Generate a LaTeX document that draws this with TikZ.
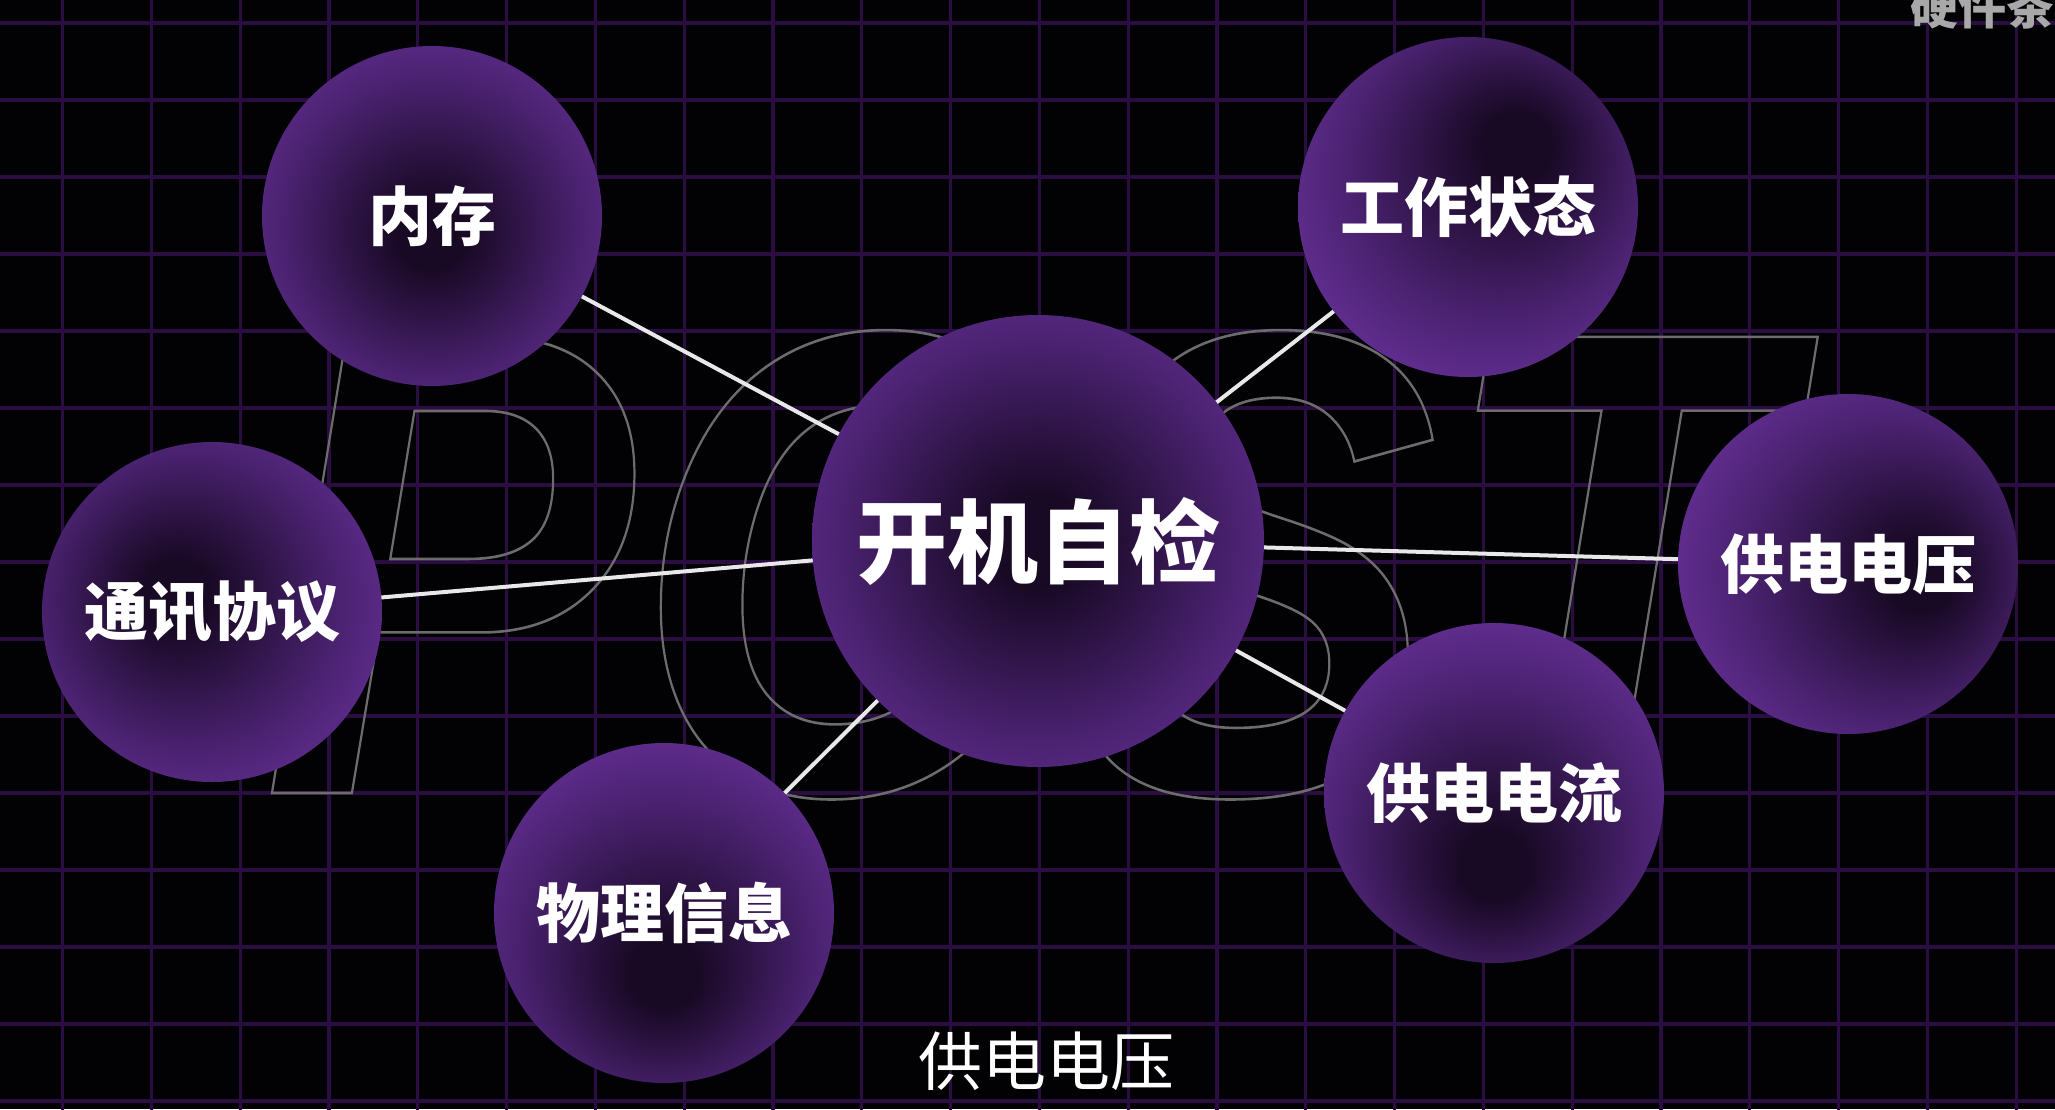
\documentclass[tikz,border=0pt]{standalone}
\usepackage{fontspec}
\newfontfamily\cjk{Noto Sans CJK SC}
\newfontfamily\postfont{Liberation Sans}
\definecolor{bgblack}{RGB}{2,1,4}
\definecolor{gridpurple}{RGB}{42,14,66}
\definecolor{ballcore}{RGB}{24,9,36}
\definecolor{ballmid}{RGB}{74,34,112}
\definecolor{balllight}{RGB}{116,55,170}
\definecolor{balledge}{RGB}{130,62,190}
\definecolor{postgray}{RGB}{108,108,108}
\definecolor{connwhite}{RGB}{232,232,232}
\definecolor{markgray}{RGB}{168,168,168}
\pgfdeclareradialshading{ballMem}{\pgfpoint{0bp}{-3bp}}{color(0bp)=(ballcore); color(5bp)=(ballcore); color(22bp)=(ballmid); color(38bp)=(balllight); color(50bp)=(balledge)}
\pgfdeclareradialshading{ballWork}{\pgfpoint{8bp}{10bp}}{color(0bp)=(ballcore); color(5bp)=(ballcore); color(22bp)=(ballmid); color(38bp)=(balllight); color(50bp)=(balledge)}
\pgfdeclareradialshading{ballMain}{\pgfpoint{0bp}{0bp}}{color(0bp)=(ballcore); color(5bp)=(ballcore); color(22bp)=(ballmid); color(38bp)=(balllight); color(50bp)=(balledge)}
\pgfdeclareradialshading{ballComm}{\pgfpoint{-6bp}{3bp}}{color(0bp)=(ballcore); color(5bp)=(ballcore); color(22bp)=(ballmid); color(38bp)=(balllight); color(50bp)=(balledge)}
\pgfdeclareradialshading{ballVolt}{\pgfpoint{12bp}{-2bp}}{color(0bp)=(ballcore); color(5bp)=(ballcore); color(22bp)=(ballmid); color(38bp)=(balllight); color(50bp)=(balledge)}
\pgfdeclareradialshading{ballCurr}{\pgfpoint{0bp}{-12bp}}{color(0bp)=(ballcore); color(5bp)=(ballcore); color(22bp)=(ballmid); color(38bp)=(balllight); color(50bp)=(balledge)}
\pgfdeclareradialshading{ballPhys}{\pgfpoint{0bp}{-10bp}}{color(0bp)=(ballcore); color(5bp)=(ballcore); color(22bp)=(ballmid); color(38bp)=(balllight); color(50bp)=(balledge)}
\pgfdeclarelayer{back}
\pgfdeclarelayer{links}
\pgfsetlayers{back,links,main}
\tikzset{
  ball/.style={circle, inner sep=0pt, minimum size=340pt, text=white,
    font=\cjk\bfseries\fontsize{64}{64}\selectfont},
  bigball/.style={ball, minimum size=452pt,
    font=\cjk\bfseries\fontsize{91}{91}\selectfont},
  conn/.style={draw=connwhite, line width=4pt},
  gridline/.style={draw=gridpurple, line width=3.2pt},
  postword/.style={text=postgray, inner sep=0pt, anchor=base west,
    font=\postfont\bfseries\itshape\fontsize{663}{663}\selectfont},
  subtitle/.style={text=white, inner sep=0pt,
    font=\cjk\fontsize{64}{64}\selectfont},
  watermark/.style={text=markgray, inner sep=0pt, anchor=base west,
    font=\cjk\bfseries\fontsize{48}{48}\selectfont},
}
\begin{document}
\begin{tikzpicture}[x=1pt,y=-1pt]
\useasboundingbox (0,0) rectangle (2055,1109);
\clip (0,0) rectangle (2055,1109);
\begin{pgfonlayer}{back}
  \fill[bgblack] (0,0) rectangle (2055,1109);
  \foreach \i in {0,...,22}
    \draw[gridline] ({62.5+88.8*\i},-5) -- ({62.5+88.8*\i},1115);
  \foreach \j in {0,...,14}
    \draw[gridline] (-5,{23+77*\j}) -- (2060,{23+77*\j});
  \begin{scope}[shift={(262,793)}, xscale=0.84]
    \node[postword, transform shape] (post) at (0,0)
      {\special{pdf:literal direct 1 Tr 2.6 w}POST\special{pdf:literal direct 0 Tr}};
  \end{scope}
\end{pgfonlayer}

\node[bigball, shading=ballMain] (main) at (1038,541) {开机自检};
\node[ball, shading=ballMem]  (mem)  at (432,216)  {内存};
\node[ball, shading=ballWork] (work) at (1468,207) {工作状态};
\node[ball, shading=ballComm] (comm) at (212,612)  {通讯协议};
\node[ball, shading=ballVolt] (volt) at (1848,564) {供电电压};
\node[ball, shading=ballCurr] (curr) at (1494,793) {供电电流};
\node[ball, shading=ballPhys] (phys) at (664,913)  {物理信息};

\begin{pgfonlayer}{links}
  \draw[conn] (mem.center) -- (main.center);
  \draw[conn] (work.center) -- (main.center);
  \draw[conn] (comm.center) -- (main.center);
  \draw[conn] (main.center) -- (volt.center);
  \draw[conn] (main.center) -- (curr.center);
  \draw[conn] (phys.center) -- (main.center);
\end{pgfonlayer}

\node[subtitle] (sub) at (1046,1061) {供电电压};
\node[watermark] (mark) at (1910,24) {硬件茶谈};
\end{tikzpicture}
\end{document}
